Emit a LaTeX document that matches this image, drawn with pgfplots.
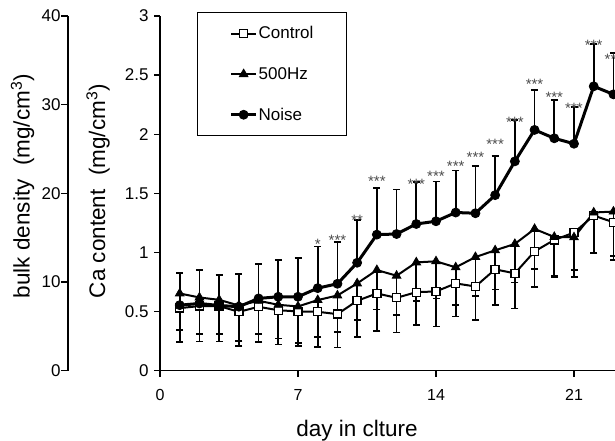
\documentclass[border=0pt]{standalone}
\usepackage{pgfplots}
\pgfplotsset{compat=1.18}
\usepackage{pgfplotstable}
\usepackage{fontspec}
\setmainfont{Liberation Sans}

\pgfplotstableread{
x y e
1 0.528 0.29
2 0.545 0.30
3 0.545 0.30
4 0.497 0.29
5 0.539 0.30
6 0.510 0.29
7 0.500 0.29
8 0.497 0.295
9 0.477 0.283
10 0.590 0.306
11 0.652 0.317
12 0.615 0.294
13 0.663 0.280
14 0.669 0.297
15 0.737 0.280
16 0.711 0.286
17 0.856 0.300
18 0.822 0.298
19 1.008 0.300
20 1.105 0.317
21 1.167 0.374
22 1.311 0.317
23 1.255 0.320
}\control

\pgfplotstableread{
x y e
1 0.652 0.308
2 0.618 0.307
3 0.598 0.290
4 0.550 0.300
5 0.590 0.283
6 0.556 0.286
7 0.542 0.306
8 0.596 0.310
9 0.635 0.308
10 0.737 0.312
11 0.850 0.334
12 0.802 0.331
13 0.915 0.325
14 0.924 0.314
15 0.873 0.317
16 0.960 0.328
17 1.017 0.331
18 1.071 0.326
19 1.198 0.340
20 1.130 0.330
21 1.127 0.277
22 1.337 0.340
23 1.345 0.375
}\hz

\pgfplotstableread{
x y e
1 0.553 0.269
2 0.567 0.283
3 0.550 0.260
4 0.540 0.276
5 0.610 0.290
6 0.624 0.311
7 0.624 0.331
8 0.697 0.353
9 0.734 0.354
10 0.912 0.362
11 1.150 0.393
12 1.155 0.377
13 1.240 0.357
14 1.263 0.337
15 1.337 0.356
16 1.331 0.399
17 1.484 0.331
18 1.770 0.353
19 2.036 0.339
20 1.965 0.327
21 1.919 0.311
22 2.405 0.355
23 2.337 0.350
}\noise

\pgfplotstableread{
x y l
8 1.020 *
9 1.062 ***
10 1.224 **
11 1.555 ***
13 1.535 ***
14 1.597 ***
15 1.687 ***
16 1.757 ***
17 1.867 ***
18 2.054 ***
19 2.377 ***
20 2.267 ***
21 2.172 ***
22 2.707 ***
23 2.587 ***
}\stars

\begin{document}
\begin{tikzpicture}[x=1pt,y=1pt]
\path[use as bounding box] (0,0) rectangle (615,440);

% outer (bulk density) axis
\begin{axis}[
  at={(68pt,69.5pt)}, anchor=south west,
  scale only axis, width=1pt, height=354.5pt,
  xmin=0, xmax=1, ymin=0, ymax=40,
  axis x line=none, axis y line=left,
  axis line style={-, line width=1.3pt},
  ytick={0,10,20,30,40},
  tick align=outside, major tick length=7pt,
  tick style={line width=1.3pt, black},
  yticklabel style={font=\fontsize{17}{17}\selectfont, xshift=3pt},
  /pgf/number format/assume math mode=true,
]
\end{axis}

% inner (Ca content) axis
\begin{axis}[
  at={(160pt,69.5pt)}, anchor=south west,
  scale only axis, width=455pt, height=354.5pt,
  xmin=0, xmax=23.08, ymin=0, ymax=3,
  axis lines=left,
  axis line style={-, line width=1.3pt},
  xtick={0,7,14,21},
  ytick={0,0.5,1,1.5,2,2.5,3},
  tick align=outside, major tick length=6pt,
  tick style={line width=1.3pt, black},
  yticklabel style={font=\fontsize{17}{17}\selectfont, xshift=-2pt},
  xticklabel style={font=\fontsize{16}{16}\selectfont, yshift=-9pt},
  /pgf/number format/assume math mode=true,
  legend cell align=left,
  legend image code/.code={\draw[mark repeat=2,mark phase=2,#1] plot coordinates {(0pt,0pt) (12.5pt,0pt) (25pt,0pt)};},
  legend style={at={(0.0813,1.0113)}, anchor=north west, draw=black, line width=1.3pt,
    inner xsep=32pt, inner ysep=13pt, row sep=25pt,
    font=\fontsize{17}{17}\selectfont, nodes={inner sep=1pt}},
]
\addplot[black, line width=2pt, mark=square*, mark size=4pt,
  mark options={fill=white, draw=black, line width=1.3pt, solid},
  error bars/.cd, y dir=minus, y explicit,
  error bar style={line width=1.8pt, black},
  error mark options={rotate=90, mark size=3.5pt, line width=1.8pt, black}]
  table[x=x, y=y, y error=e] {\control};
\addplot[black, line width=2pt, mark=triangle*, mark size=5pt,
  mark options={fill=black, draw=black, line width=0.8pt, solid},
  error bars/.cd, y dir=minus, y explicit,
  error bar style={line width=1.8pt, black},
  error mark options={rotate=90, mark size=3.5pt, line width=1.8pt, black}]
  table[x=x, y=y, y error=e] {\hz};
\addplot[black, line width=3pt, mark=*, mark size=4.5pt,
  mark options={fill=black, draw=black, line width=0.8pt, solid},
  error bars/.cd, y dir=plus, y explicit,
  error bar style={line width=1.8pt, black},
  error mark options={rotate=90, mark size=3.5pt, line width=1.8pt, black}]
  table[x=x, y=y, y error=e] {\noise};
\legend{Control,500Hz,Noise}
\addplot[draw=none, mark=none, forget plot, nodes near coords, point meta=explicit symbolic,
  every node near coord/.append style={anchor=base, inner sep=0pt, text=black!70,
    font=\fontsize{15}{15}\selectfont}]
  table[x=x, y=y, meta=l] {\stars};
\end{axis}

\node[rotate=90, anchor=base, font=\fontsize{22.5}{22.5}\selectfont] at (29.5,254) {bulk density\hspace{0.6em}(mg/cm\textsuperscript{3})};
\node[rotate=90, anchor=base, font=\fontsize{22.5}{22.5}\selectfont] at (105,249) {Ca content\hspace{0.6em}(mg/cm\textsuperscript{3})};
\node[anchor=base, font=\fontsize{22.5}{22.5}\selectfont] at (357,4) {day in clture};
\end{tikzpicture}
\end{document}
